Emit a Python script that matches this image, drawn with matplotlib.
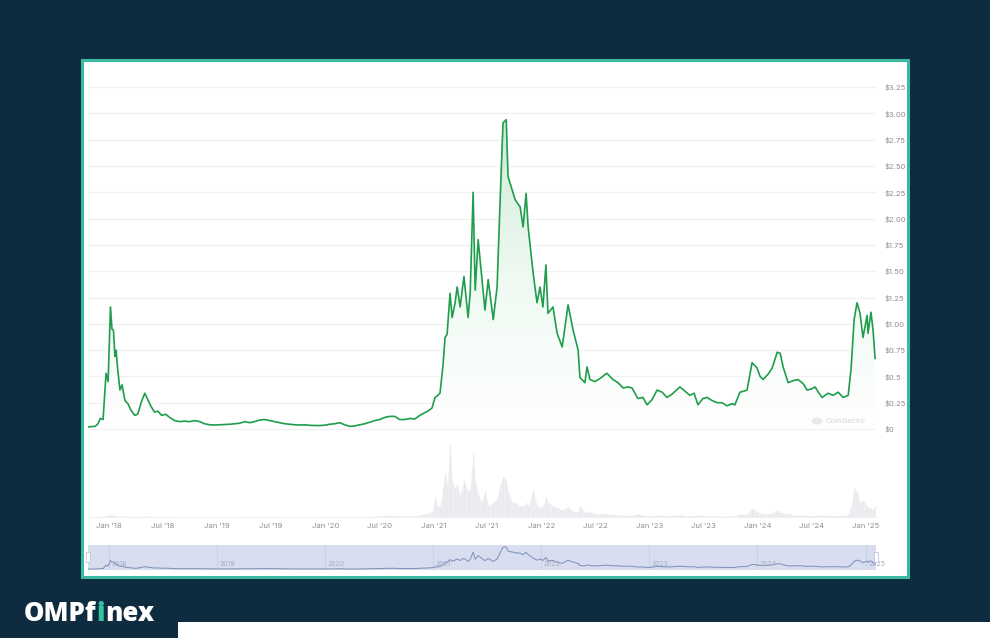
import matplotlib
matplotlib.use("Agg")
import matplotlib.pyplot as plt
import matplotlib.dates as mdates
from matplotlib.patches import Rectangle, Circle
import numpy as np
import pandas as pd

# -----------------------------
# Data (ADA / USD)
# -----------------------------
dates = [
    "2017-10-21", "2017-11-14", "2017-11-24", "2017-12-01", "2017-12-11", "2017-12-21",
    "2017-12-28", "2018-01-05", "2018-01-10", "2018-01-15", "2018-01-20", "2018-01-24",
    "2018-01-29", "2018-02-06", "2018-02-13", "2018-02-23", "2018-03-05", "2018-03-15",
    "2018-03-28", "2018-04-07", "2018-04-21", "2018-05-01", "2018-05-11", "2018-05-21",
    "2018-06-03", "2018-06-14", "2018-06-27", "2018-07-11", "2018-07-24", "2018-08-10",
    "2018-08-27", "2018-09-13", "2018-09-30", "2018-10-17", "2018-11-03", "2018-11-19",
    "2018-12-06", "2018-12-23", "2019-01-09", "2019-01-26", "2019-02-12", "2019-03-01",
    "2019-03-18", "2019-04-04", "2019-04-21", "2019-05-07", "2019-05-24", "2019-06-10",
    "2019-06-27", "2019-07-14", "2019-07-31", "2019-08-17", "2019-09-03", "2019-09-20",
    "2019-10-07", "2019-10-24", "2019-11-10", "2019-11-27", "2019-12-13", "2019-12-30",
    "2020-01-16", "2020-02-02", "2020-02-19", "2020-03-07", "2020-03-24", "2020-04-10",
    "2020-04-27", "2020-05-14", "2020-05-31", "2020-06-17", "2020-07-03", "2020-07-20",
    "2020-08-06", "2020-08-23", "2020-09-09", "2020-09-26", "2020-10-13", "2020-10-30",
    "2020-11-16", "2020-11-29", "2020-12-13", "2020-12-27", "2021-01-06", "2021-01-16",
    "2021-01-23", "2021-02-02", "2021-02-09", "2021-02-16", "2021-02-26", "2021-03-05",
    "2021-03-15", "2021-03-22", "2021-04-01", "2021-04-14", "2021-04-28", "2021-05-05",
    "2021-05-15", "2021-05-22", "2021-06-01", "2021-06-14", "2021-06-24", "2021-07-05",
    "2021-07-22", "2021-08-04", "2021-08-14", "2021-08-24", "2021-09-04", "2021-09-10",
    "2021-09-24", "2021-10-04", "2021-10-21", "2021-10-31", "2021-11-10", "2021-11-17",
    "2021-12-04", "2021-12-17", "2021-12-27", "2022-01-06", "2022-01-16", "2022-01-23",
    "2022-02-09", "2022-02-23", "2022-03-12", "2022-04-01", "2022-04-18", "2022-05-05",
    "2022-05-11", "2022-05-28", "2022-06-04", "2022-06-14", "2022-07-01", "2022-07-18",
    "2022-08-10", "2022-08-31", "2022-09-17", "2022-10-04", "2022-10-21", "2022-11-03",
    "2022-11-23", "2022-12-10", "2022-12-24", "2023-01-10", "2023-01-27", "2023-02-13",
    "2023-03-01", "2023-03-18", "2023-04-14", "2023-05-01", "2023-05-18", "2023-06-01",
    "2023-06-14", "2023-07-01", "2023-07-15", "2023-08-01", "2023-08-18", "2023-09-04",
    "2023-09-20", "2023-10-07", "2023-10-17", "2023-11-03", "2023-11-17", "2023-11-27",
    "2023-12-14", "2023-12-31", "2024-01-10", "2024-01-20", "2024-02-06", "2024-02-20",
    "2024-03-08", "2024-03-18", "2024-03-28", "2024-04-14", "2024-05-01", "2024-05-18",
    "2024-06-04", "2024-06-17", "2024-07-01", "2024-07-14", "2024-07-25", "2024-08-07",
    "2024-08-27", "2024-09-13", "2024-09-30", "2024-10-17", "2024-11-03", "2024-11-13",
    "2024-11-23", "2024-12-03", "2024-12-13", "2024-12-23", "2025-01-06", "2025-01-09",
    "2025-01-19", "2025-01-26", "2025-02-02",
]

prices = [
    0.02, 0.025, 0.05, 0.10, 0.09, 0.53,
    0.45, 1.16, 0.95, 0.94, 0.69, 0.75,
    0.58, 0.37, 0.42, 0.27, 0.24, 0.18,
    0.13, 0.14, 0.27, 0.34, 0.28, 0.22,
    0.16, 0.17, 0.13, 0.14, 0.11, 0.08,
    0.07, 0.075, 0.07, 0.08, 0.07, 0.05,
    0.04, 0.038, 0.04, 0.042, 0.045, 0.05,
    0.055, 0.07, 0.06, 0.07, 0.085, 0.09,
    0.08, 0.07, 0.06, 0.05, 0.045, 0.04,
    0.038, 0.04, 0.035, 0.033, 0.033, 0.036,
    0.045, 0.05, 0.06, 0.04, 0.025, 0.03,
    0.04, 0.05, 0.065, 0.08, 0.09, 0.11,
    0.12, 0.12, 0.09, 0.09, 0.10, 0.095,
    0.13, 0.15, 0.17, 0.20, 0.30, 0.32,
    0.34, 0.60, 0.87, 0.90, 1.29, 1.06,
    1.20, 1.35, 1.16, 1.45, 1.06, 1.29,
    2.25, 1.32, 1.80, 1.42, 1.13, 1.42,
    1.04, 1.35, 2.15, 2.91, 2.94, 2.40,
    2.27, 2.18, 2.11, 1.92, 2.24, 1.92,
    1.48, 1.20, 1.35, 1.16, 1.56, 1.10,
    1.16, 0.91, 0.78, 1.18, 0.94, 0.75,
    0.49, 0.44, 0.59, 0.47, 0.45, 0.48,
    0.53, 0.47, 0.44, 0.39, 0.40, 0.39,
    0.29, 0.30, 0.23, 0.28, 0.37, 0.35,
    0.30, 0.33, 0.40, 0.36, 0.32, 0.34,
    0.23, 0.29, 0.30, 0.27, 0.25, 0.25,
    0.22, 0.24, 0.23, 0.35, 0.36, 0.37,
    0.63, 0.58, 0.50, 0.47, 0.52, 0.58,
    0.73, 0.72, 0.59, 0.44, 0.46, 0.47,
    0.43, 0.37, 0.38, 0.40, 0.35, 0.30,
    0.34, 0.32, 0.35, 0.30, 0.32, 0.58,
    1.04, 1.20, 1.10, 0.87, 1.08, 0.91,
    1.11, 0.94, 0.67,
]

# volume in billions USD (rough)
volumes = [
    0.05, 0.05, 0.1, 0.2, 0.2, 0.4,
    0.4, 0.6, 0.5, 0.4, 0.4, 0.3,
    0.3, 0.3, 0.2, 0.2, 0.2, 0.1,
    0.1, 0.1, 0.2, 0.3, 0.2, 0.1,
    0.1, 0.1, 0.1, 0.1, 0.1, 0.05,
    0.05, 0.05, 0.05, 0.05, 0.05, 0.05,
    0.05, 0.05, 0.05, 0.05, 0.05, 0.05,
    0.05, 0.1, 0.1, 0.1, 0.1, 0.1,
    0.1, 0.1, 0.05, 0.05, 0.05, 0.05,
    0.05, 0.05, 0.05, 0.05, 0.05, 0.05,
    0.1, 0.1, 0.1, 0.1, 0.1, 0.05,
    0.05, 0.1, 0.1, 0.2, 0.3, 0.4,
    0.5, 0.4, 0.3, 0.3, 0.3, 0.3,
    0.6, 0.9, 1.0, 1.4, 5.5, 3.0,
    3.0, 8.0, 12.0, 9.0, 20.0, 10.0,
    8.0, 9.0, 6.0, 10.0, 7.0, 8.0,
    17.5, 10.0, 6.0, 4.0, 7.4, 3.0,
    4.0, 5.0, 9.0, 11.0, 10.0, 7.0,
    4.0, 4.0, 3.0, 3.0, 4.0, 3.0,
    7.4, 3.0, 2.5, 3.0, 5.5, 4.0,
    3.0, 2.5, 2.0, 2.7, 1.5, 1.5,
    3.0, 1.2, 1.2, 1.5, 0.8, 0.8,
    0.9, 0.7, 0.6, 0.5, 0.5, 0.4,
    0.9, 0.5, 0.4, 0.4, 0.6, 0.5,
    0.4, 0.5, 0.6, 0.4, 0.4, 0.4,
    0.6, 0.4, 0.3, 0.3, 0.3, 0.2,
    0.2, 0.3, 0.3, 0.8, 0.7, 0.8,
    2.5, 1.5, 1.0, 0.8, 0.9, 1.0,
    1.9, 1.5, 1.0, 0.9, 0.6, 0.5,
    0.5, 0.5, 0.4, 0.4, 0.5, 0.6,
    0.4, 0.4, 0.4, 0.5, 0.6, 3.0,
    8.0, 7.0, 4.0, 4.6, 3.0, 2.5,
    2.5, 2.0, 3.0,
]

price_ticks = [0, 0.25, 0.5, 0.75, 1.0, 1.25, 1.5, 1.75, 2.0, 2.25, 2.5, 2.75, 3.0, 3.25]
price_tick_labels = ["$0", "$0.25", "$0.5", "$0.75", "$1.00", "$1.25", "$1.50", "$1.75",
                     "$2.00", "$2.25", "$2.50", "$2.75", "$3.00", "$3.25"]
month_ticks = ["2018-01-01", "2018-07-01", "2019-01-01", "2019-07-01", "2020-01-01",
               "2020-07-01", "2021-01-01", "2021-07-01", "2022-01-01", "2022-07-01",
               "2023-01-01", "2023-07-01", "2024-01-01", "2024-07-01", "2025-01-01"]
month_labels = ["Jan '18", "Jul '18", "Jan '19", "Jul '19", "Jan '20", "Jul '20",
                "Jan '21", "Jul '21", "Jan '22", "Jul '22", "Jan '23", "Jul '23",
                "Jan '24", "Jul '24", "Jan '25"]
nav_years = ["2018", "2019", "2020", "2021", "2022", "2023", "2024", "2025"]

# -----------------------------
# Colours / layout
# -----------------------------
BG = "#0f2b40"
TEAL = "#3bb9a1"
LINE = "#1f9d4c"
GRID = "#f0f0f0"
LABEL = "#8d8d8d"

W, H = 990, 638

def fx(px):
    return px / W

def fy(py):
    return 1 - py / H

d = pd.to_datetime(dates)
dn = mdates.date2num(d)
prices = np.array(prices)
volumes = np.array(volumes)
x0 = mdates.date2num(pd.Timestamp("2017-10-21"))
x1 = mdates.date2num(pd.Timestamp("2025-02-05"))

plt.rcParams["font.family"] = ["Inter", "DejaVu Sans"]

fig = plt.figure(figsize=(W / 100, H / 100), dpi=100)
fig.patch.set_facecolor(BG)

# white card with teal border (behind the axes)
fig.patches.append(Rectangle((fx(82), fy(577)), fx(908 - 82), (577 - 60) / H,
                             transform=fig.transFigure, facecolor="white",
                             edgecolor=TEAL, linewidth=2.2, zorder=-2))
# white strip bottom right
fig.patches.append(Rectangle((fx(178), 0), 1 - fx(178), (638 - 622) / H,
                             transform=fig.transFigure, facecolor="white",
                             edgecolor="none", zorder=-2))

# -----------------------------
# Price panel
# -----------------------------
ax = fig.add_axes([fx(88), fy(432), fx(876 - 88), (432 - 85) / H])
ax.set_facecolor("none")
ymin, ymax = -0.0285, 3.27
ax.set_xlim(x0, x1)
ax.set_ylim(ymin, ymax)

for t in price_ticks:
    ax.axhline(t, color=GRID, lw=0.8, zorder=0)

ax.plot(dn, prices, color=LINE, lw=1.2, zorder=3)

# gradient fill under the line
poly = ax.fill_between(dn, prices, 0, color="none")
grad = np.linspace(0, 1, 256).reshape(-1, 1)
cmap = matplotlib.colors.LinearSegmentedColormap.from_list(
    "g", ["#ffffff", "#eef9f1", "#cdebd6"])
im = ax.imshow(grad, aspect="auto", cmap=cmap, origin="lower",
               extent=[x0, x1, 0, 3.0], zorder=1)
im.set_clip_path(poly.get_paths()[0], transform=ax.transData)

ax.yaxis.tick_right()
ax.set_yticks(price_ticks)
ax.set_yticklabels(price_tick_labels)
ax.tick_params(axis="y", length=0, pad=6, labelsize=5.5, labelcolor=LABEL)
ax.set_xticks([])
for s in ax.spines.values():
    s.set_visible(False)

# CoinGecko watermark
fig.patches.append(Circle((fx(817), fy(421)), 5.5 / W, transform=fig.transFigure,
                          facecolor="#e9e9e9", edgecolor="none", zorder=5))
fig.text(fx(826), fy(421), "CoinGecko", fontsize=5.5, color="#d4d4d4",
         va="center", ha="left")

# -----------------------------
# Volume panel
# -----------------------------
axv = fig.add_axes([fx(88), fy(517), fx(876 - 88), (517 - 440) / H])
axv.set_facecolor("none")
axv.fill_between(dn, volumes, 0, color="#eceef1", lw=0)
axv.vlines(dn, 0, volumes, color="#e6e8ec", lw=0.5)
axv.set_xlim(x0, x1)
axv.set_ylim(0, 21)
axv.set_yticks([])
axv.set_xticks(mdates.date2num(pd.to_datetime(month_ticks)))
axv.set_xticklabels(month_labels)
axv.tick_params(axis="x", length=0, pad=4, labelsize=5.5, labelcolor=LABEL)
for s in ["top", "left", "right"]:
    axv.spines[s].set_visible(False)
axv.spines["bottom"].set_color("#eeeeee")
axv.spines["bottom"].set_linewidth(0.6)

# -----------------------------
# Navigator
# -----------------------------
axn = fig.add_axes([fx(88), fy(570), fx(876 - 88), (570 - 545) / H])
axn.set_facecolor("#d8deef")
axn.set_xlim(x0, x1)
axn.set_ylim(-0.1, 3.2)
year_pos = mdates.date2num(pd.to_datetime([y + "-01-01" for y in nav_years]))
for xp, yl in zip(year_pos, nav_years):
    axn.axvline(xp, color="#c8d0e4", lw=0.6)
    axn.text(xp + 8, 0.25, yl, fontsize=5, color="#a3abc0", ha="left", va="bottom")
axn.plot(dn, prices, color="#8597bf", lw=0.8)
axn.set_xticks([])
axn.set_yticks([])
for s in axn.spines.values():
    s.set_visible(False)
# handles
for hx in [88, 876]:
    fig.patches.append(Rectangle((fx(hx - 2), fy(562)), 4 / W, 10 / H,
                                 transform=fig.transFigure, facecolor="white",
                                 edgecolor="#b8c0d6", lw=0.5, zorder=5))

# -----------------------------
# Logo: measure the word once, then place the three pieces
# -----------------------------
logo_kw = dict(fontsize=18.5, fontweight=800, family=["Open Sans", "DejaVu Sans"],
               va="baseline")
fig.canvas.draw()
renderer = fig.canvas.get_renderer()
ends = []
for part in ["OMPfi", "OMPfinex"]:
    probe = fig.text(fx(24), fy(621), part, ha="left", **logo_kw)
    ends.append(probe.get_window_extent(renderer).x1)
    probe.remove()
fig.text(fx(24), fy(621), "OMPf", color="white", ha="left", **logo_kw)
fig.text(ends[0] / W, fy(621), "i", color="#2fc49c", ha="right", **logo_kw)
fig.text(ends[1] / W, fy(621), "nex", color="white", ha="right", **logo_kw)

fig.savefig("out.png", dpi=100, facecolor=fig.get_facecolor())
